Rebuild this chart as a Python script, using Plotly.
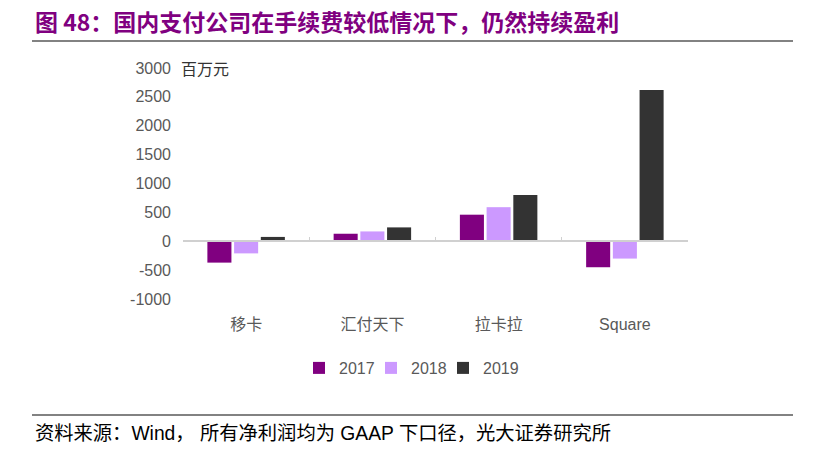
import plotly.graph_objects as go

categories = ["移卡", "汇付天下", "拉卡拉", "Square"]
years = ["2017", "2018", "2019"]
v2017 = [-370, 130, 460, -450]
v2018 = [-210, 170, 590, -300]
v2019 = [75, 240, 800, 2620]
colors = ["#800080", "#CC99FF", "#333333"]
y_ticks = [-1000, -500, 0, 500, 1000, 1500, 2000, 2500, 3000]
y_tick_text = ["-1000", "-500", "0", "500", "1000", "1500", "2000", "2500", "3000"]

W, H = 830, 452
ml, mr, mt, mb = 183, 142, 68, 153
pw, ph = W - ml - mr, H - mt - mb

def px2x(px):
    return (px - ml) / pw

def px2y(py):
    return (H - mb - py) / ph

FONT = "Liberation Sans, Arial, Noto Sans CJK SC"
CJK = "Noto Sans CJK SC, Liberation Sans"

legend_names = ["legend", "legend2", "legend3"]
legend_x_px = [299, 371, 443]

fig = go.Figure()
for name, vals, c, lg in zip(years, [v2017, v2018, v2019], colors, legend_names):
    fig.add_trace(go.Bar(x=categories, y=vals, name=name, legend=lg,
                         marker=dict(color=c, line=dict(width=0))))

# dummy trace to create overlay axis drawn at zero
fig.add_trace(go.Scatter(x=[0], y=[0], xaxis="x2", mode="markers", marker=dict(opacity=0),
                         hoverinfo="skip", showlegend=False))

legend_style = dict(orientation="h", xanchor="left", y=px2y(368), yanchor="middle",
                    font=dict(family=FONT, size=16, color="#595959"), itemwidth=30,
                    bgcolor="rgba(0,0,0,0)")

fig.update_layout(
    width=W, height=H,
    margin=dict(l=ml, r=mr, t=mt, b=mb),
    paper_bgcolor="white", plot_bgcolor="white",
    barmode="group", bargap=0.365, bargroupgap=0.1,
    font=dict(family=FONT, size=16, color="#595959"),
    xaxis=dict(range=[-0.5, 3.5], showgrid=False, showline=False, ticks="", zeroline=False,
               tickfont=dict(family=FONT, size=16, color="#595959"), ticklabelstandoff=14),
    xaxis2=dict(overlaying="x", anchor="free", position=1000 / 4000, range=[-0.5, 3.5],
                tickvals=[-0.5, 0.5, 1.5, 2.5, 3.5], showticklabels=False, ticks="inside",
                ticklen=4, tickcolor="#d0d0d0", tickwidth=1, showline=True, linecolor="#d0d0d0",
                linewidth=1.5, showgrid=False, zeroline=False),
    yaxis=dict(range=[-1000, 3000], tickvals=y_ticks, ticktext=y_tick_text, showgrid=False,
               zeroline=False, showline=False, ticks="",
               tickfont=dict(family=FONT, size=16, color="#595959"), ticklabelstandoff=11),
    legend=dict(x=px2x(legend_x_px[0]), **legend_style),
    legend2=dict(x=px2x(legend_x_px[1]), **legend_style),
    legend3=dict(x=px2x(legend_x_px[2]), **legend_style),
    showlegend=True,
)

anns = [
    dict(text="图 48：国内支付公司在手续费较低情况下，仍然持续盈利", x=px2x(33), y=px2y(21),
         xanchor="left", yanchor="middle", font=dict(family=CJK, size=23, color="#800080", weight="bold")),
    dict(text="百万元", x=px2x(179), y=px2y(68), xanchor="left", yanchor="middle",
         font=dict(family=CJK, size=16, color="#333333")),
    dict(text="资料来源：Wind， 所有净利润均为 GAAP 下口径，光大证券研究所", x=px2x(33), y=px2y(433),
         xanchor="left", yanchor="middle", font=dict(family=FONT, size=19.3, color="#000000")),
]
for a in anns:
    fig.add_annotation(xref="paper", yref="paper", showarrow=False, **a)

for ypx in (41, 415):
    fig.add_shape(type="line", xref="paper", yref="paper", x0=px2x(32), x1=px2x(793),
                  y0=px2y(ypx), y1=px2y(ypx), line=dict(color="#595959", width=1.5))

fig.write_html("out.html", config={"displayModeBar": False},
               post_script="document.body.style.margin='0px';document.body.style.padding='0px';")
